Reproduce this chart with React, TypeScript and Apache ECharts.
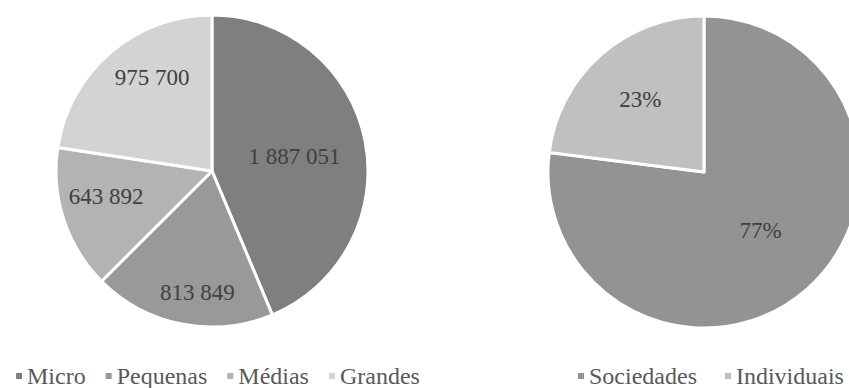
import React, { useEffect, useRef } from "react";
import * as echarts from "echarts";

const sizeCategories = ["Micro", "Pequenas", "Médias", "Grandes"];
const sizeValues = [1887051, 813849, 643892, 975700];
const sizeColors = ["#7f7f7f", "#999999", "#b3b3b3", "#d3d3d3"];
const sizeLabelOffsets = [[3, 1], [1, 42], [-29, 0], [-7, -32]];

const typeCategories = ["Sociedades", "Individuais"];
const typeValues = [77, 23];
const typeColors = ["#939393", "#c0c0c0"];
const typeLabelOffsets = [[3, -2], [-10, -12]];

const FONT = "Liberation Serif";

function fmtThousands(v: number): string {
  return String(v).replace(/\B(?=(\d{3})+(?!\d))/g, " ");
}

export default function App() {
  const ref = useRef<HTMLDivElement>(null);
  useEffect(() => {
    if (!ref.current) return;
    const chart = echarts.init(ref.current, undefined, { renderer: "svg" });
    const labelStyle = {
      show: true,
      position: "inside",
      color: "#404040",
      fontFamily: FONT,
      fontSize: 23,
    };
    const legendBase = {
      top: 364,
      padding: 0,
      icon: "rect",
      itemWidth: 6,
      itemHeight: 6,
      orient: "horizontal",
      itemStyle: { borderWidth: 0 },
      textStyle: { fontFamily: FONT, fontSize: 24, color: "#595959" },
    };
    chart.setOption({
      animation: false,
      backgroundColor: "#ffffff",
      legend: [
        { ...legendBase, data: sizeCategories, left: 16, itemGap: 20 },
        { ...legendBase, data: typeCategories, left: 578, itemGap: 28, width: 271 },
      ],
      series: [
        {
          type: "pie",
          center: [212, 171],
          radius: 156,
          startAngle: 90,
          clockwise: true,
          itemStyle: { borderColor: "#ffffff", borderWidth: 3 },
          emphasis: { disabled: true },
          label: { ...labelStyle, formatter: (p: any) => fmtThousands(p.value) },
          labelLine: { show: false },
          data: sizeCategories.map((name, i) => ({
            name,
            value: sizeValues[i],
            itemStyle: { color: sizeColors[i] },
            label: { offset: sizeLabelOffsets[i] },
          })),
        },
        {
          type: "pie",
          center: [704, 172],
          radius: 156,
          startAngle: 90,
          clockwise: true,
          itemStyle: { borderColor: "#ffffff", borderWidth: 3 },
          emphasis: { disabled: true },
          label: { ...labelStyle, formatter: (p: any) => p.value + "%" },
          labelLine: { show: false },
          data: typeCategories.map((name, i) => ({
            name,
            value: typeValues[i],
            itemStyle: { color: typeColors[i] },
            label: { offset: typeLabelOffsets[i] },
          })),
        },
      ],
    });
    return () => chart.dispose();
  }, []);
  return (
    <div
      ref={ref}
      style={{ position: "fixed", left: 0, top: 0, width: 849, height: 388 }}
    />
  );
}
